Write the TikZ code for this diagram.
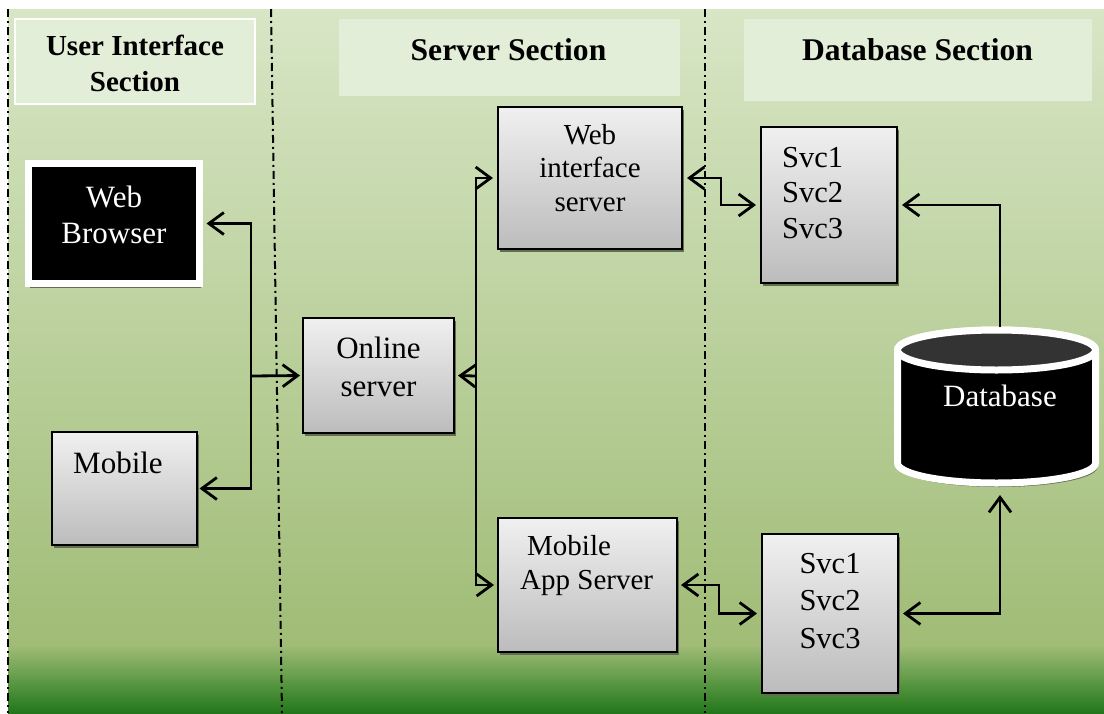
\documentclass[tikz,border=0pt]{standalone}
\usepackage{fontspec}
\setmainfont{Liberation Serif}
\usetikzlibrary{arrows.meta,shadows}
\definecolor{bgtop}{HTML}{D8E6C6}
\definecolor{bgmid}{HTML}{A0BC76}
\definecolor{bgdk}{HTML}{5E9946}
\definecolor{bgbot}{HTML}{22771B}
\definecolor{hdr}{HTML}{E3EED8}
\definecolor{shad}{HTML}{5F6F50}
\definecolor{gtop}{HTML}{F0F0F0}
\definecolor{gbot}{HTML}{BCBCBC}
\definecolor{dbcap}{HTML}{333333}
\tikzset{
  sepline/.style={line width=2pt, dash pattern=on 8pt off 4pt on 2pt off 4pt},
  hdrbox/.style={fill=hdr, inner sep=0pt, outer sep=0pt},
  graybox/.style={draw=black, line width=2pt, top color=gtop, bottom color=gbot, inner sep=0pt,
    drop shadow={shadow xshift=1.5pt, shadow yshift=-3pt, fill=shad, opacity=1}},
  conn/.style={line width=2.8pt, shorten >=3pt},
  >={Straight Barb[length=15pt,width=22pt]},
  txt/.style={inner sep=0pt, anchor=base, font=\fontsize{#1}{#1}\selectfont},
  txtl/.style={inner sep=0pt, anchor=base west, font=\fontsize{#1}{#1}\selectfont},
  htxt/.style={inner sep=0pt, anchor=base, font=\fontsize{#1}{#1}\selectfont\bfseries}
}
\begin{document}
\begin{tikzpicture}[x=1pt,y=-1pt]
\useasboundingbox (0,0) rectangle (1104,713);
% background
\shade[top color=bgtop, bottom color=bgmid] (8,9) rectangle (1104,646);
\shade[top color=bgmid, bottom color=bgdk] (8,645) rectangle (1104,681);
\shade[top color=bgdk, bottom color=bgbot] (8,680) rectangle (1104,713);
% section separators
\draw[sepline] (8,9) -- (8,713);
\draw[sepline] (271,9) -- (282,713);
\draw[sepline] (705,9) -- (705,713);
% headers
\node[hdrbox, draw=white, line width=1.5pt, minimum width=240pt, minimum height=85pt] (hui) at (135,61.5) {};
\node[hdrbox, minimum width=341pt, minimum height=77pt] (hsv) at (509.5,57.5) {};
\node[hdrbox, minimum width=348pt, minimum height=82pt] (hdb) at (918,60) {};
\node[htxt=29] (hui1) at (135,55) {User Interface};
\node[htxt=29] (hui2) at (135,91) {Section};
\node[htxt=31.6] (hsvt) at (508.5,60) {Server Section};
\node[htxt=31.6] (hdbt) at (917.5,60) {Database Section};
% boxes
\node[fill=black, draw=white, line width=7pt, minimum width=171pt, minimum height=120pt, inner sep=0pt,
  drop shadow={shadow xshift=1.5pt, shadow yshift=-4pt, fill=shad, opacity=1}] (wb) at (113.5,223.5) {};
\node[graybox, minimum width=145pt, minimum height=113pt] (mob) at (124.5,488.5) {};
\node[graybox, minimum width=151pt, minimum height=115pt] (onl) at (378.5,375.5) {};
\node[graybox, minimum width=184pt, minimum height=142pt] (wis) at (590,178) {};
\node[graybox, minimum width=179pt, minimum height=134pt] (mas) at (587.5,585) {};
\node[graybox, minimum width=136pt, minimum height=156pt] (svcA) at (829,205) {};
\node[graybox, minimum width=136pt, minimum height=159pt] (svcB) at (830,613.5) {};
% database cylinder
\fill[shad] (899.5,354) -- (899.5,467) arc[start angle=180,end angle=360,x radius=99pt,y radius=20pt] -- (1097.5,354) -- cycle;
\draw[white, line width=7pt, fill=black] (897.5,350) -- (897.5,463)
  arc[start angle=180,end angle=360,x radius=99pt,y radius=20pt] -- (1095.5,350)
  arc[start angle=0,end angle=180,x radius=99pt,y radius=20pt] -- cycle;
\draw[white, line width=7pt, fill=dbcap] (996.5,350) ellipse[x radius=99pt, y radius=20pt];
\node[inner sep=0pt, outer sep=0pt, minimum width=205pt, minimum height=160pt] (db) at (1000,407) {};
% texts
\node[txt=31, text=white] (wb1) at (114,207) {Web};
\node[txt=31, text=white] (wb2) at (114,243) {Browser};
\node[txtl=31] (mob1) at (73,473) {Mobile};
\node[txt=31] (onl1) at (378.5,358) {Online};
\node[txt=31] (onl2) at (378.5,396) {server};
\node[txt=29] (wis1) at (590,144) {Web};
\node[txt=29] (wis2) at (590,177) {interface};
\node[txt=29] (wis3) at (590,211) {server};
\node[txtl=29] (mas1) at (527,555) {Mobile};
\node[txtl=29] (mas2) at (520,589) {App Server};
\node[txtl=30.5] (sa1) at (782,167) {Svc1};
\node[txtl=30.5] (sa2) at (782,202) {Svc2};
\node[txtl=30.5] (sa3) at (782,238) {Svc3};
\node[txt=30.5] (sb1) at (830,573) {Svc1};
\node[txt=30.5] (sb2) at (830,610) {Svc2};
\node[txt=30.5] (sb3) at (830,648) {Svc3};
\node[txt=31, text=white] (dbt) at (1000,406) {Database};
% connectors
\coordinate (jL) at (251,376);
\coordinate (jR) at (476,376);
\coordinate (k1) at (721,178);
\coordinate (k2) at (719,585);
\draw[conn,->,shorten >=4pt] (jL) |- (wb.east);
\draw[conn,->,shorten >=1.5pt] (jL) |- (mob.east);
\draw[conn,->,shorten >=2pt] (jL) -- (onl.west);
\draw[conn,->] (jR) -- (onl.east);
\draw[conn,->,shorten >=4pt] (jR) |- (wis.west);
\draw[conn,->] (jR) |- (mas.west);
\draw[conn,<->,shorten <=4pt,shorten >=4pt] (wis.east) -- (k1) |- (svcA.west);
\draw[conn,<->,shorten <=3pt,shorten >=4pt] (mas.east) -- (k2) |- (svcB.west);
\draw[conn,->,shorten >=4pt] (db.north) |- (svcA.east);
\draw[conn,<->,shorten <=4pt,shorten >=8pt] (svcB.east) -| (db.south);
\end{tikzpicture}
\end{document}
